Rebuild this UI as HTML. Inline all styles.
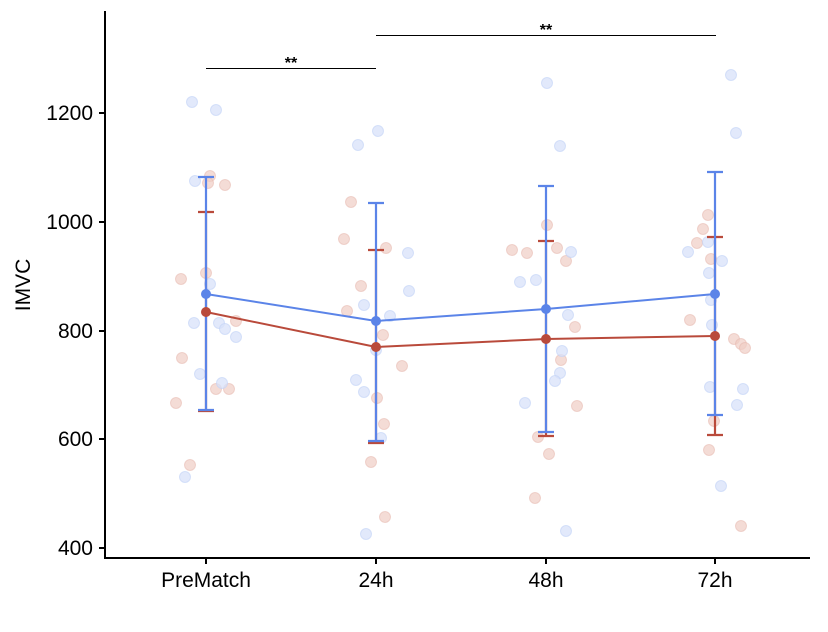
<!DOCTYPE html>
<html><head><meta charset="utf-8"><style>html,body{margin:0;padding:0;background:#fff}svg{display:block}</style></head>
<body>
<svg width="828" height="632" viewBox="0 0 828 632" xmlns="http://www.w3.org/2000/svg" font-family="Liberation Sans, Arial, sans-serif">
<rect width="828" height="632" fill="#fff"/>
<g fill="#efcdc5" fill-opacity="0.7" stroke="#e6b6ab" stroke-opacity="0.5" stroke-width="1">
<circle cx="210" cy="176" r="5.5"/><circle cx="225" cy="185" r="5.5"/><circle cx="208" cy="183" r="5.5"/><circle cx="181" cy="279" r="5.5"/><circle cx="206" cy="273" r="5.5"/><circle cx="236" cy="321" r="5.5"/><circle cx="182" cy="358" r="5.5"/><circle cx="216" cy="389" r="5.5"/><circle cx="229" cy="389" r="5.5"/><circle cx="176" cy="403" r="5.5"/><circle cx="190" cy="465" r="5.5"/>
<circle cx="351" cy="202" r="5.5"/><circle cx="344" cy="239" r="5.5"/><circle cx="386" cy="248" r="5.5"/><circle cx="361" cy="286" r="5.5"/><circle cx="347" cy="311" r="5.5"/><circle cx="383" cy="335" r="5.5"/><circle cx="402" cy="366" r="5.5"/><circle cx="377" cy="398" r="5.5"/><circle cx="384" cy="424" r="5.5"/><circle cx="371" cy="462" r="5.5"/><circle cx="385" cy="517" r="5.5"/>
<circle cx="512" cy="250" r="5.5"/><circle cx="527" cy="253" r="5.5"/><circle cx="557" cy="248" r="5.5"/><circle cx="566" cy="261" r="5.5"/><circle cx="575" cy="327" r="5.5"/><circle cx="561" cy="360" r="5.5"/><circle cx="538" cy="437" r="5.5"/><circle cx="549" cy="454" r="5.5"/><circle cx="535" cy="498" r="5.5"/><circle cx="577" cy="406" r="5.5"/><circle cx="547" cy="225" r="5.5"/>
<circle cx="708" cy="215" r="5.5"/><circle cx="703" cy="229" r="5.5"/><circle cx="697" cy="243" r="5.5"/><circle cx="711" cy="259" r="5.5"/><circle cx="690" cy="320" r="5.5"/><circle cx="734" cy="339" r="5.5"/><circle cx="741" cy="344" r="5.5"/><circle cx="745" cy="348" r="5.5"/><circle cx="714" cy="421" r="5.5"/><circle cx="709" cy="450" r="5.5"/><circle cx="741" cy="526" r="5.5"/>
</g>
<g fill="#d8e2fa" fill-opacity="0.75" stroke="#c2d2f6" stroke-opacity="0.6" stroke-width="1">
<circle cx="192" cy="102" r="5.5"/><circle cx="216" cy="110" r="5.5"/><circle cx="195" cy="181" r="5.5"/><circle cx="210" cy="284" r="5.5"/><circle cx="194" cy="323" r="5.5"/><circle cx="219" cy="323" r="5.5"/><circle cx="225" cy="329" r="5.5"/><circle cx="236" cy="337" r="5.5"/><circle cx="200" cy="374" r="5.5"/><circle cx="222" cy="383" r="5.5"/><circle cx="185" cy="477" r="5.5"/>
<circle cx="358" cy="145" r="5.5"/><circle cx="378" cy="131" r="5.5"/><circle cx="408" cy="253" r="5.5"/><circle cx="409" cy="291" r="5.5"/><circle cx="364" cy="305" r="5.5"/><circle cx="390" cy="316" r="5.5"/><circle cx="376" cy="350" r="5.5"/><circle cx="356" cy="380" r="5.5"/><circle cx="364" cy="392" r="5.5"/><circle cx="381" cy="438" r="5.5"/><circle cx="366" cy="534" r="5.5"/>
<circle cx="547" cy="83" r="5.5"/><circle cx="560" cy="146" r="5.5"/><circle cx="571" cy="252" r="5.5"/><circle cx="520" cy="282" r="5.5"/><circle cx="536" cy="280" r="5.5"/><circle cx="568" cy="315" r="5.5"/><circle cx="562" cy="351" r="5.5"/><circle cx="560" cy="373" r="5.5"/><circle cx="555" cy="381" r="5.5"/><circle cx="525" cy="403" r="5.5"/><circle cx="566" cy="531" r="5.5"/>
<circle cx="731" cy="75" r="5.5"/><circle cx="736" cy="133" r="5.5"/><circle cx="708" cy="242" r="5.5"/><circle cx="688" cy="252" r="5.5"/><circle cx="709" cy="273" r="5.5"/><circle cx="722" cy="261" r="5.5"/><circle cx="712" cy="325" r="5.5"/><circle cx="743" cy="389" r="5.5"/><circle cx="710" cy="387" r="5.5"/><circle cx="737" cy="405" r="5.5"/><circle cx="721" cy="486" r="5.5"/><circle cx="711" cy="300" r="5.5"/>
</g>
<g stroke="#b94a3b" stroke-width="2.2" fill="none">
<path d="M206 212V411M198 212H214M198 411H214"/>
<path d="M376 250V443M368 250H384M368 443H384"/>
<path d="M546 241V436M538 241H554M538 436H554"/>
<path d="M715 237V435M707 237H723M707 435H723"/>
<polyline points="206,312 376,347 546,339 715,336" stroke-width="2"/>
</g>
<g stroke="#5b84e8" stroke-width="2.2" fill="none">
<path d="M206 177V410M198 177H214M198 410H214"/>
<path d="M376 203V441M368 203H384M368 441H384"/>
<path d="M546 186V432M538 186H554M538 432H554"/>
<path d="M715 172V415M707 172H723M707 415H723"/>
<polyline points="206,294 376,321 546,309 715,294" stroke-width="2"/>
</g>
<g fill="#b94a3b"><circle cx="206" cy="312" r="5"/><circle cx="376" cy="347" r="5"/><circle cx="546" cy="339" r="5"/><circle cx="715" cy="336" r="5"/></g>
<g fill="#5b84e8"><circle cx="206" cy="294" r="5"/><circle cx="376" cy="321" r="5"/><circle cx="546" cy="309" r="5"/><circle cx="715" cy="294" r="5"/></g>
<g stroke="#000" stroke-width="1"><path d="M206 68.5H376M376 35.5H716"/></g>
<g font-size="16" font-weight="bold" text-anchor="middle" fill="#000"><text x="291" y="68">**</text><text x="546" y="35">**</text></g>
<g stroke="#000" stroke-width="2" fill="none">
<path d="M105 11V558H810"/>
<path d="M99 113H105M99 222H105M99 331H105M99 439H105M99 548H105"/>
<path d="M206 558V564M376 558V564M546 558V564M715 558V564"/>
</g>
<g font-size="21" fill="#000" text-anchor="end">
<text x="93" y="120">1200</text><text x="93" y="229">1000</text><text x="93" y="338">800</text><text x="93" y="446">600</text><text x="93" y="555">400</text>
</g>
<g font-size="21" fill="#000" text-anchor="middle">
<text x="206" y="587">PreMatch</text><text x="376" y="587">24h</text><text x="546" y="587">48h</text><text x="715" y="587">72h</text>
</g>
<text transform="translate(30,285) rotate(-90)" font-size="21" text-anchor="middle" fill="#000">IMVC</text>
</svg>
</body></html>
